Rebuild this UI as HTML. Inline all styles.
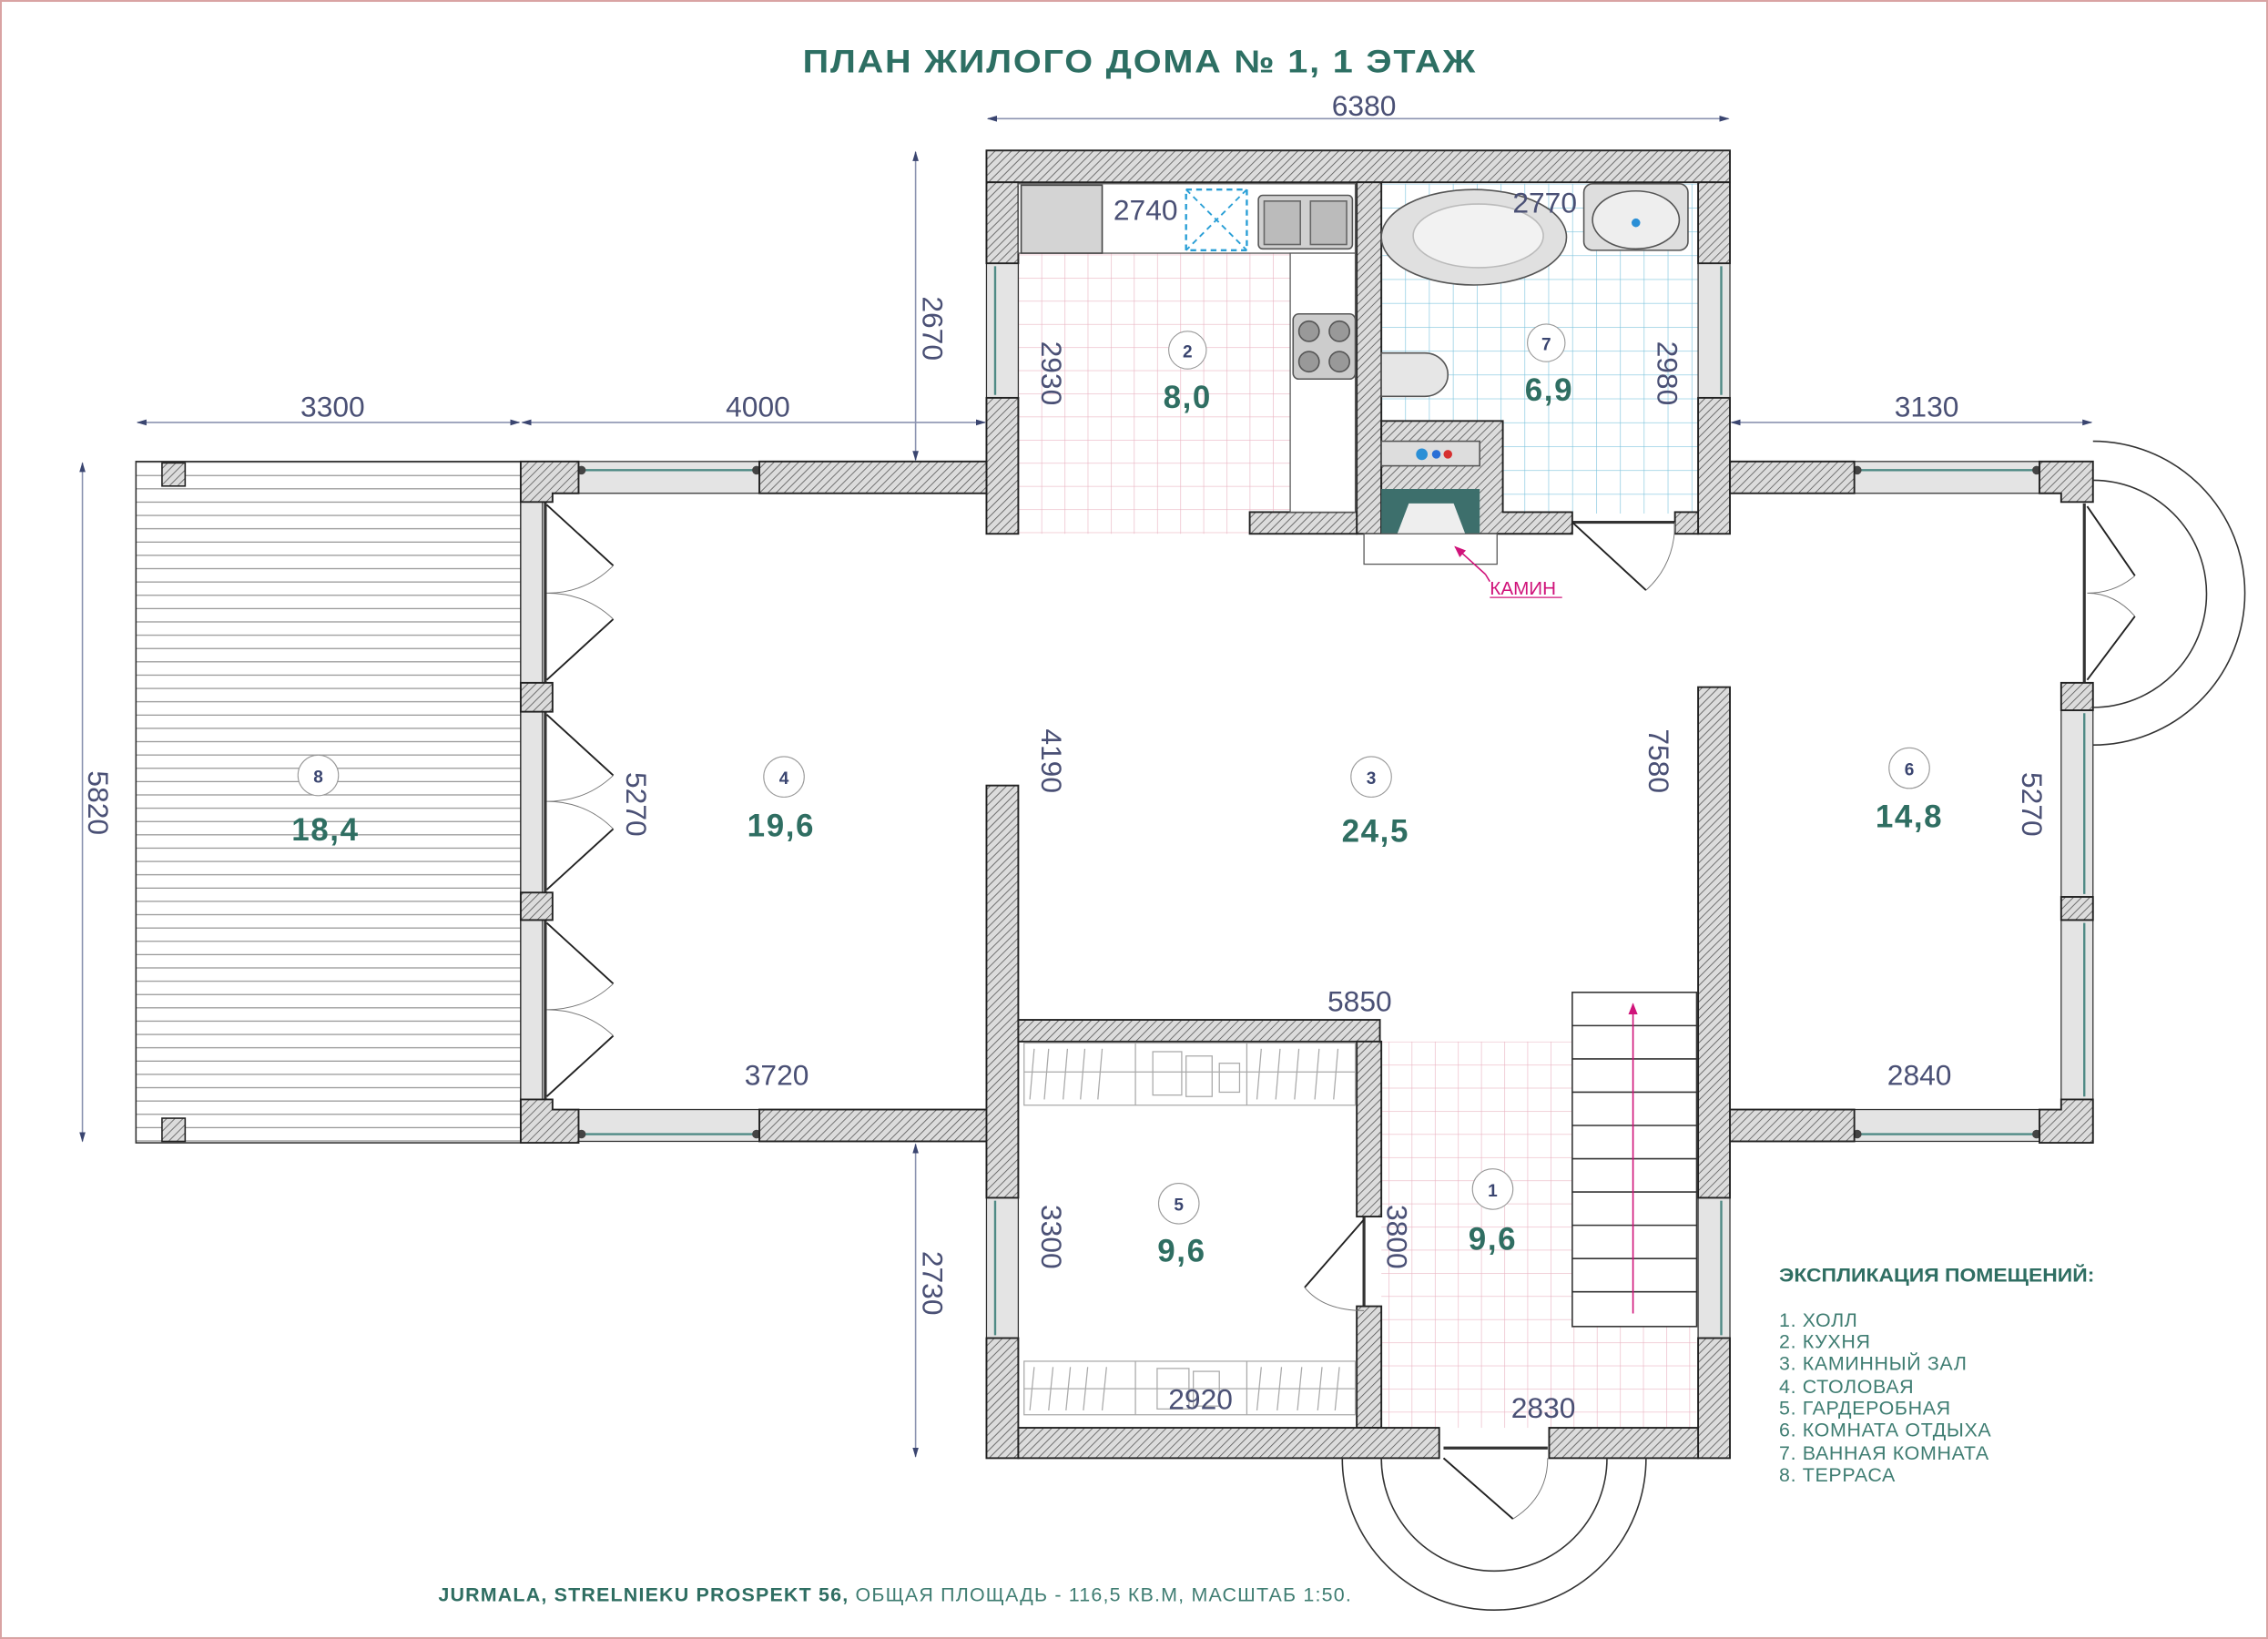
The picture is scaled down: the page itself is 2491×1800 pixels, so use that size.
<!DOCTYPE html>
<html><head><meta charset="utf-8"><style>
html,body{margin:0;padding:0;background:#fff}
svg{display:block}
.d{font-family:"Liberation Sans",sans-serif;font-size:20px;fill:#4a5075}
.a{font-family:"Liberation Sans",sans-serif;font-size:22px;font-weight:bold;fill:#2f6e62;letter-spacing:1px}
.n{font-family:"Liberation Sans",sans-serif;font-size:12px;font-weight:bold;fill:#3a4570}
.l{font-family:"Liberation Sans",sans-serif;font-size:13.5px;fill:#3f7d72;letter-spacing:0.4px}
</style></head><body>
<svg width="2491" height="1800" viewBox="0 0 1568 1133" xmlns="http://www.w3.org/2000/svg">
<defs>
<pattern id="h" width="4" height="4" patternUnits="userSpaceOnUse" patternTransform="rotate(45)">
<rect width="4" height="4" fill="#dcdcdc"/><line x1="0" y1="0" x2="0" y2="4" stroke="#555" stroke-width="1"/></pattern>
<pattern id="pk" width="16" height="16" patternUnits="userSpaceOnUse"><path d="M0 0H16M0 0V16" stroke="#eab5c3" stroke-width="0.8" fill="none"/></pattern>
<pattern id="bl" width="16.5" height="16.5" patternUnits="userSpaceOnUse" x="955" y="127"><path d="M0 0H16.5M0 0V16.5" stroke="#7ec4dd" stroke-width="0.8" fill="none"/></pattern>
<pattern id="tr" width="10" height="9.2" patternUnits="userSpaceOnUse" y="319"><line x1="0" y1="0.5" x2="10" y2="0.5" stroke="#888" stroke-width="0.7"/></pattern>
<marker id="ar" viewBox="0 0 10 10" refX="9" refY="5" markerWidth="7" markerHeight="7" orient="auto-start-reverse"><path d="M0 2L10 5L0 8z" fill="#3a4570"/></marker>
<marker id="mg" viewBox="0 0 10 10" refX="9" refY="5" markerWidth="8" markerHeight="8" orient="auto"><path d="M0 1L10 5L0 9z" fill="#d0137a"/></marker>
</defs>
<rect x="0.5" y="0.5" width="1567" height="1132" fill="none" stroke="#d9a3a3" stroke-width="1.5"/>

<text x="788" y="50" text-anchor="middle" font-family="Liberation Sans,sans-serif" font-size="22" font-weight="bold" fill="#2d6f63" letter-spacing="1" textLength="466" lengthAdjust="spacingAndGlyphs">ПЛАН ЖИЛОГО ДОМА № 1, 1 ЭТАЖ</text>

<!-- floor fills -->
<rect x="704" y="175" width="188" height="194" fill="url(#pk)"/>
<rect x="955" y="127" width="219" height="228" fill="url(#bl)"/>
<rect x="955" y="720" width="218" height="267" fill="url(#pk)"/>
<rect x="94" y="319" width="266" height="471" fill="url(#tr)" stroke="#333" stroke-width="1"/>
<rect x="112" y="320" width="16" height="16" fill="url(#h)" stroke="#222"/>
<rect x="112" y="773" width="16" height="16" fill="url(#h)" stroke="#222"/>

<!-- windows (gray jambs) -->
<g fill="#e4e4e4" stroke="#333" stroke-width="0.8">
<rect x="400" y="319" width="125" height="22"/><rect x="1282" y="319" width="128" height="22"/>
<rect x="400" y="767" width="125" height="22"/><rect x="1282" y="767" width="128" height="22"/>
<rect x="682" y="182" width="22" height="93"/><rect x="1174" y="182" width="22" height="93"/>
<rect x="682" y="828" width="22" height="97"/><rect x="1174" y="828" width="22" height="97"/>
<rect x="1425" y="491" width="22" height="129"/><rect x="1425" y="636" width="22" height="124"/>
<rect x="360" y="347" width="15" height="125"/><rect x="360" y="492" width="15" height="125"/><rect x="360" y="636" width="15" height="124"/>
</g>
<g stroke="#4f8a85" stroke-width="1.5">
<line x1="402" y1="325" x2="523" y2="325"/><line x1="1284" y1="325" x2="1408" y2="325"/>
<line x1="402" y1="784" x2="523" y2="784"/><line x1="1284" y1="784" x2="1408" y2="784"/>
<line x1="688" y1="184" x2="688" y2="273"/><line x1="1190" y1="184" x2="1190" y2="273"/>
<line x1="688" y1="830" x2="688" y2="923"/><line x1="1190" y1="830" x2="1190" y2="923"/>
<line x1="1441" y1="493" x2="1441" y2="618"/><line x1="1441" y1="638" x2="1441" y2="758"/>
</g>
<g fill="#444">
<circle cx="402" cy="325" r="3"/><circle cx="523" cy="325" r="3"/><circle cx="1284" cy="325" r="3"/><circle cx="1408" cy="325" r="3"/>
<circle cx="402" cy="784" r="3"/><circle cx="523" cy="784" r="3"/><circle cx="1284" cy="784" r="3"/><circle cx="1408" cy="784" r="3"/>
</g>
<g stroke="#333" stroke-width="2">
<line x1="377" y1="347" x2="377" y2="472"/><line x1="377" y1="492" x2="377" y2="617"/><line x1="377" y1="636" x2="377" y2="760"/>
<line x1="1441" y1="348" x2="1441" y2="472"/>
<line x1="943" y1="841" x2="943" y2="903"/>
<line x1="998" y1="1001" x2="1070" y2="1001"/>
<line x1="1087" y1="361" x2="1158" y2="361"/>
</g>

<!-- walls -->
<g fill="url(#h)" stroke="#222" stroke-width="1.2">
<rect x="682" y="104" width="514" height="22"/>
<rect x="682" y="126" width="22" height="56"/><rect x="682" y="275" width="22" height="94"/>
<rect x="1174" y="126" width="22" height="56"/><rect x="1174" y="275" width="22" height="94"/>
<rect x="938" y="126" width="17" height="243"/>
<rect x="864" y="354" width="74" height="15"/>
<path d="M955 291H1039V354H1087V369H955Z"/>
<rect x="1158" y="354" width="16" height="15"/>
<rect x="525" y="319" width="157" height="22"/><rect x="1196" y="319" width="86" height="22"/>
<rect x="525" y="767" width="157" height="22"/><rect x="1196" y="767" width="86" height="22"/>
<path d="M360 319H400V341H382V347H360Z"/><path d="M1410 319H1447V347H1425V341H1410Z"/>
<path d="M360 790H400V767H382V760H360Z"/><path d="M1410 790H1447V760H1425V767H1410Z"/>
<rect x="360" y="472" width="22" height="20"/><rect x="360" y="617" width="22" height="19"/>
<rect x="1425" y="472" width="22" height="19"/><rect x="1425" y="620" width="22" height="16"/>
<rect x="682" y="543" width="22" height="285"/><rect x="682" y="925" width="22" height="83"/>
<rect x="704" y="705" width="250" height="15"/>
<rect x="938" y="720" width="17" height="121"/><rect x="938" y="903" width="17" height="84"/>
<rect x="1174" y="475" width="22" height="353"/><rect x="1174" y="925" width="22" height="83"/>
<rect x="704" y="987" width="291" height="21"/><rect x="1071" y="987" width="103" height="21"/>
</g>

<!-- door leaves & arcs -->
<g fill="none" stroke="#222" stroke-width="1.2">
<path d="M378 349L424 391M378 470L424 428M378 494L424 536M378 615L424 573M378 638L424 680M378 758L424 716"/>
<path d="M1443 350L1476 398M1443 470L1476 426"/>
<path d="M943 843L902 890M998 1008L1046 1050M1087 361L1138 408"/>
</g>
<g fill="none" stroke="#777" stroke-width="0.6">
<path d="M424 391Q405 410 378 410Q405 410 424 428"/><path d="M424 536Q405 554 378 554Q405 554 424 573"/><path d="M424 680Q405 698 378 698Q405 698 424 716"/>
<path d="M1476 398Q1462 410 1443 410Q1462 410 1476 426"/>
<path d="M902 890Q915 906 943 906"/><path d="M1046 1050Q1070 1035 1070 1008"/><path d="M1138 408Q1158 390 1158 361"/>
</g>
<g fill="none" stroke="#333" stroke-width="1">
<path d="M1447 305A105 105 0 0 1 1447 515"/><path d="M1447 332A78 78 0 0 1 1447 489"/>
<path d="M928 1008A105 105 0 0 0 1138 1008"/><path d="M955 1008A78 78 0 0 0 1111 1008"/>
</g>

<!-- kitchen furniture -->
<rect x="704" y="127" width="233" height="48" fill="#fff" stroke="#555" stroke-width="0.8"/>
<rect x="892" y="175" width="45" height="179" fill="#fff" stroke="#555" stroke-width="0.8"/>
<rect x="706" y="128" width="56" height="47" fill="#d4d4d4" stroke="#444"/>
<rect x="820" y="131" width="42" height="42" fill="none" stroke="#2a9fd6" stroke-width="1.5" stroke-dasharray="4 3"/>
<path d="M820 131L862 173M862 131L820 173" stroke="#2a9fd6" stroke-width="1.2" stroke-dasharray="4 3"/>
<rect x="870" y="135" width="65" height="37" rx="3" fill="#d0d0d0" stroke="#555"/>
<rect x="874" y="139" width="25" height="30" fill="#bbb" stroke="#666"/><rect x="906" y="139" width="25" height="30" fill="#bbb" stroke="#666"/>
<rect x="894" y="217" width="43" height="45" rx="4" fill="#ccc" stroke="#555"/>
<g fill="#999" stroke="#555"><circle cx="905" cy="229" r="7"/><circle cx="926" cy="229" r="7"/><circle cx="905" cy="250" r="7"/><circle cx="926" cy="250" r="7"/></g>
<!-- bath -->
<ellipse cx="1019" cy="164" rx="64" ry="33" fill="#e0e0e0" stroke="#555"/>
<ellipse cx="1022" cy="163" rx="45" ry="22" fill="#f2f2f2" stroke="#bbb"/>
<rect x="1095" y="127" width="72" height="46" rx="6" fill="#dedede" stroke="#555"/>
<ellipse cx="1131" cy="152" rx="30" ry="20" fill="#eee" stroke="#555"/><circle cx="1131" cy="154" r="3" fill="#2a8fd6"/>
<path d="M955 244H985A16 15 0 0 1 985 274H955Z" fill="#e6e6e6" stroke="#555"/>
<rect x="955" y="305" width="68" height="17" fill="#ddd" stroke="#555"/>
<circle cx="983" cy="314" r="4" fill="#2a8fd6"/><circle cx="993" cy="314" r="3" fill="#2a6fd6"/><circle cx="1001" cy="314" r="3" fill="#d63030"/>
<rect x="955" y="338" width="68" height="31" fill="#3d6f6c"/><path d="M966 369L974 348H1005L1013 369Z" fill="#eee"/>
<rect x="943" y="369" width="92" height="21" fill="#fff" stroke="#555" stroke-width="0.8"/>
<line x1="1027" y1="397" x2="1006" y2="378" stroke="#d0137a" stroke-width="1" marker-end="url(#mg)"/>
<line x1="1027" y1="397" x2="1030" y2="402" stroke="#d0137a"/>
<text x="1030" y="411" font-family="Liberation Sans,sans-serif" font-size="13" fill="#d0137a">КАМИН</text>
<line x1="1030" y1="413" x2="1080" y2="413" stroke="#d0137a" stroke-width="0.8"/>

<!-- wardrobe shelves -->
<g fill="none" stroke="#aaa" stroke-width="0.8">
<rect x="708" y="721" width="229" height="43"/><rect x="708" y="941" width="229" height="37"/>
<path d="M708 741H937M708 960H937M785 721V764M862 721V764M785 941V978M862 941V978"/>
<path d="M715 725L712 760M725 725L722 760M738 725L735 760M750 725L747 760M762 725L759 760M872 725L869 760M885 725L882 760M898 725L895 760M912 725L909 760M925 725L922 760M715 945L712 975M728 945L725 975M740 945L737 975M752 945L749 975M765 945L762 975M872 945L869 975M886 945L883 975M900 945L897 975M914 945L911 975M926 945L923 975"/>
<rect x="797" y="727" width="20" height="30"/><rect x="820" y="730" width="18" height="28"/><rect x="843" y="735" width="14" height="20"/><rect x="800" y="946" width="22" height="28"/><rect x="825" y="948" width="18" height="24"/>
</g>
<!-- stairs -->
<g fill="#fff" stroke="#333" stroke-width="1">
<rect x="1087" y="686" width="86" height="231"/>
<path d="M1087 709H1173M1087 732H1173M1087 755H1173M1087 778H1173M1087 801H1173M1087 824H1173M1087 847H1173M1087 870H1173M1087 893H1173"/>
</g>
<line x1="1129" y1="908" x2="1129" y2="694" stroke="#d0137a" stroke-width="1" marker-end="url(#mg)"/>

<!-- dimension lines -->
<g stroke="#8b93b0" stroke-width="1" fill="none">
<line x1="683" y1="82" x2="1195" y2="82" marker-start="url(#ar)" marker-end="url(#ar)"/>
<line x1="95" y1="292" x2="359" y2="292" marker-start="url(#ar)" marker-end="url(#ar)"/>
<line x1="361" y1="292" x2="681" y2="292" marker-start="url(#ar)" marker-end="url(#ar)"/>
<line x1="1197" y1="292" x2="1446" y2="292" marker-start="url(#ar)" marker-end="url(#ar)"/>
<line x1="633" y1="105" x2="633" y2="318" marker-start="url(#ar)" marker-end="url(#ar)"/>
<line x1="633" y1="791" x2="633" y2="1007" marker-start="url(#ar)" marker-end="url(#ar)"/>
<line x1="57" y1="320" x2="57" y2="789" marker-start="url(#ar)" marker-end="url(#ar)"/>
</g>
<g class="d">
<text x="943" y="80" text-anchor="middle">6380</text>
<text x="230" y="288" text-anchor="middle">3300</text>
<text x="524" y="288" text-anchor="middle">4000</text>
<text x="1332" y="288" text-anchor="middle">3130</text>
<text x="792" y="152" text-anchor="middle">2740</text>
<text x="1068" y="147" text-anchor="middle">2770</text>
<text x="940" y="699" text-anchor="middle">5850</text>
<text x="537" y="750" text-anchor="middle">3720</text>
<text x="1327" y="750" text-anchor="middle">2840</text>
<text x="830" y="974" text-anchor="middle">2920</text>
<text x="1067" y="980" text-anchor="middle">2830</text>
<text transform="translate(638,227) rotate(90)" text-anchor="middle">2670</text>
<text transform="translate(638,887) rotate(90)" text-anchor="middle">2730</text>
<text transform="translate(61,555) rotate(90)" text-anchor="middle">5820</text>
<text transform="translate(720,258) rotate(90)" text-anchor="middle">2930</text>
<text transform="translate(1146,258) rotate(90)" text-anchor="middle">2980</text>
<text transform="translate(433,556) rotate(90)" text-anchor="middle">5270</text>
<text transform="translate(720,526) rotate(90)" text-anchor="middle">4190</text>
<text transform="translate(1140,526) rotate(90)" text-anchor="middle">7580</text>
<text transform="translate(1398,556) rotate(90)" text-anchor="middle">5270</text>
<text transform="translate(720,855) rotate(90)" text-anchor="middle">3300</text>
<text transform="translate(959,855) rotate(90)" text-anchor="middle">3800</text>
</g>

<!-- room labels -->
<g fill="#fff" stroke="#999" stroke-width="0.7">
<circle cx="821" cy="242" r="13"/><circle cx="1069" cy="237" r="13"/><circle cx="542" cy="537" r="14"/><circle cx="948" cy="537" r="14"/>
<circle cx="1320" cy="531" r="14"/><circle cx="220" cy="536" r="14"/><circle cx="815" cy="832" r="14"/><circle cx="1032" cy="822" r="14"/>
</g>
<g class="n" text-anchor="middle">
<text x="821" y="247">2</text><text x="1069" y="242">7</text><text x="542" y="542">4</text><text x="948" y="542">3</text>
<text x="1320" y="536">6</text><text x="220" y="541">8</text><text x="815" y="837">5</text><text x="1032" y="827">1</text>
</g>
<g class="a" text-anchor="middle">
<text x="821" y="282">8,0</text><text x="1071" y="277">6,9</text><text x="540" y="578">19,6</text><text x="951" y="582">24,5</text>
<text x="1320" y="572">14,8</text><text x="225" y="581">18,4</text><text x="817" y="872">9,6</text><text x="1032" y="864">9,6</text>
</g>

<!-- legend -->
<text x="1230" y="886" font-family="Liberation Sans,sans-serif" font-size="13.5" font-weight="bold" fill="#2f6e62" textLength="218" lengthAdjust="spacingAndGlyphs">ЭКСПЛИКАЦИЯ ПОМЕЩЕНИЙ:</text>
<g class="l">
<text x="1230" y="917">1.  ХОЛЛ</text><text x="1230" y="932">2.  КУХНЯ</text><text x="1230" y="947">3.  КАМИННЫЙ ЗАЛ</text><text x="1230" y="963">4.  СТОЛОВАЯ</text>
<text x="1230" y="978">5.  ГАРДЕРОБНАЯ</text><text x="1230" y="993">6.  КОМНАТА ОТДЫХА</text><text x="1230" y="1009">7.  ВАННАЯ КОМНАТА</text><text x="1230" y="1024">8.  ТЕРРАСА</text>
</g>
<text x="303" y="1107" font-family="Liberation Sans,sans-serif" font-size="13.5" fill="#3f7d72" textLength="631" lengthAdjust="spacing"><tspan font-weight="bold" fill="#2f6e62">JURMALA, STRELNIEKU PROSPEKT 56,</tspan> ОБЩАЯ ПЛОЩАДЬ - 116,5 КВ.М, МАСШТАБ 1:50.</text>
</svg>
</body></html>
